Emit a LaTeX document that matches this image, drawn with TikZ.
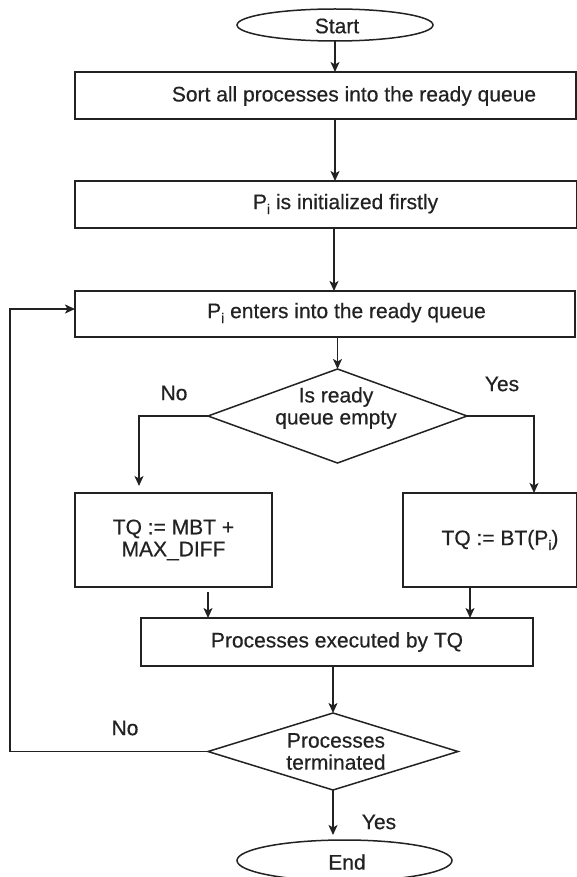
\documentclass[tikz,border=0pt]{standalone}
\usepackage{fontspec}
\setmainfont{Liberation Sans}[FakeBold=0.5]
\usetikzlibrary{shapes.geometric,arrows.meta}
\definecolor{ink}{HTML}{222222}
\newcommand{\mysubi}{\raisebox{-0.45ex}{\fontsize{14}{14}\selectfont i}}
\begin{document}
\begin{tikzpicture}[x=1pt,y=-1pt,
  every node/.style={font=\fontsize{21}{22}\selectfont, inner sep=0pt, outer sep=0pt, text=ink},
  box/.style={draw=ink, line width=1.5pt, rectangle},
  dia/.style={draw=ink, line width=1.5pt, diamond},
  term/.style={draw=ink, line width=1.5pt, ellipse},
  txt/.style={align=center},
  arr/.style={draw=ink, -{Stealth[length=10pt,width=9pt,inset=2.5pt]}, line width=1.5pt}]
\useasboundingbox (0,0) rectangle (576,877);
% terminals
\node[term, minimum width=196pt, minimum height=32pt] (start) at (335,25) {};
\node (st) at (337,26) {Start};
\node[term, minimum width=215pt, minimum height=41pt] (endn) at (344.5,860.5) {};
\node (et) at (347,862) {End};
% boxes
\node[box, minimum width=501pt, minimum height=47pt] (box1) at (325.5,95.5) {};
\node (t1) at (354,96) {Sort all processes into the ready queue};
\node[box, minimum width=502pt, minimum height=47pt] (box2) at (326,204.5) {};
\node (t2) at (345.6,204) {P\mysubi{} is initialized firstly};
\node[box, minimum width=500pt, minimum height=46pt] (box3) at (325,314) {};
\node (t3) at (346.5,313) {P\mysubi{} enters into the ready queue};
% decision 1
\node[dia, minimum width=259pt, minimum height=94pt] (d1) at (337.5,416) {};
\node[txt] (d1t) at (336,408) {Is ready\\queue empty};
\node (no1) at (174,393) {No};
\node (yes1) at (502,384) {Yes};
% branch boxes
\node[box, txt, minimum width=197pt, minimum height=94pt] (lbox) at (173.5,540) {TQ := MBT +\\MAX\_DIFF};
\node[box, minimum width=174pt, minimum height=94pt] (rbox) at (490,540) {};
\node (rt) at (500,540) {TQ := BT(P\mysubi)};
% exec
\node[box, minimum width=392pt, minimum height=48pt] (exec) at (337,642) {Processes executed by TQ};
% decision 2
\node[dia, minimum width=250pt, minimum height=77pt] (d2) at (333,751.5) {};
\node[txt] (d2t) at (336,751.5) {Processes\\terminated};
\node (no2) at (125,728) {No};
\node (yes2) at (379,822) {Yes};
% helper coordinates
\coordinate (c2) at (334,0);
\coordinate (lx) at (139,0);
\coordinate (rx) at (534,0);
\coordinate (lx2) at (208,0);
\coordinate (rx2) at (470,0);
\coordinate (lp) at (10,309);
% connectors
\draw[arr] (start.south) -- (start.south |- box1.north);
\draw[arr] (box1.south -| start.south) -- (box2.north -| start.south);
\draw[arr] (box2.south -| c2) -- (box3.north -| c2);
\draw[arr] (box3.south -| d1.north) -- (d1.north);
\draw[arr] (d1.west) -| ([yshift=7pt]lbox.north -| lx);
\draw[arr] (d1.east) -| (rbox.north -| rx);
\draw[arr] ([yshift=-5pt]lbox.south -| lx2) -- (exec.north -| lx2);
\draw[arr] (rbox.south -| rx2) -- (exec.north -| rx2);
\draw[arr] (exec.south -| d2.north) -- (d2.north);
\draw[arr] (d2.west) -| (lp) -- (lp -| box3.west);
\draw[arr] (d2.south) -- ([yshift=5pt]endn.north -| d2.south);
\end{tikzpicture}
\end{document}
